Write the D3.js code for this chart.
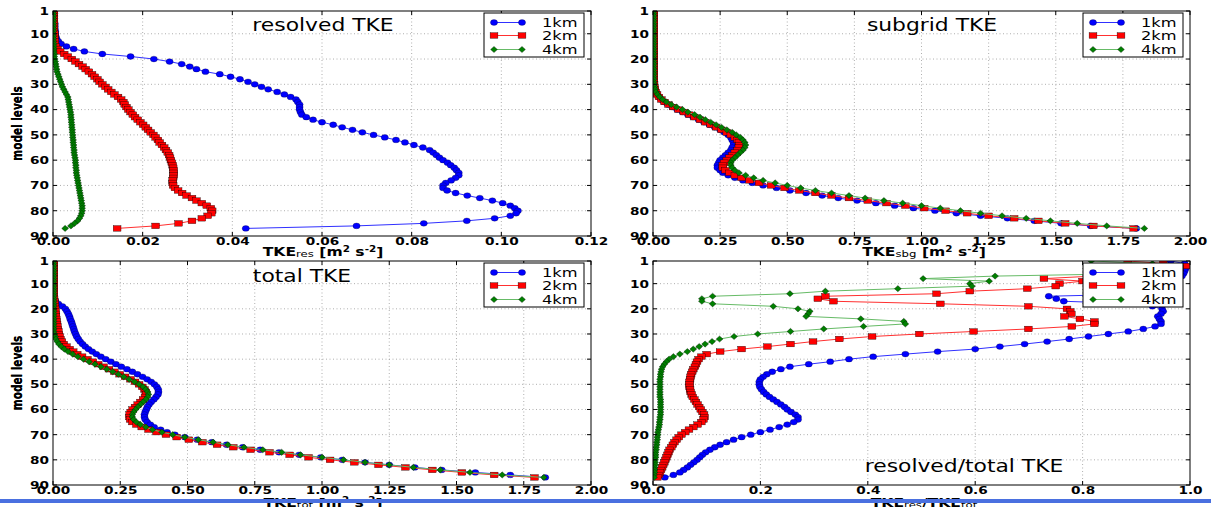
<!DOCTYPE html>
<html>
<head>
<meta charset="utf-8">
<script src="https://cdn.jsdelivr.net/npm/d3@7"></script>
<style>
  body { margin: 0; background: #fff; }
  text { font-family: "DejaVu Sans", sans-serif; fill: #000; }
</style>
</head>
<body>
<div id="chart"></div>
<script>
// Svg set up
var svgWidth = 1211;
var svgHeight = 507;
var SX = 1.3;   // the picture is stretched sideways, so is the text

// model levels 1..87
var levels = d3.range(1, 88);
var yTicks = [1, 10, 20, 30, 40, 50, 60, 70, 80, 90];
var xTicksRes = [0, 0.02, 0.04, 0.06, 0.08, 0.10, 0.12];
var xTicksTke = [0, 0.25, 0.5, 0.75, 1.0, 1.25, 1.5, 1.75, 2.0];
var xTicksRatio = [0, 0.2, 0.4, 0.6, 0.8, 1.0];
var seriesNames = ["1km", "2km", "4km"];

// resolved TKE
var res1 = [0.0003,0.0003,0.0003,0.0003,0.0003,0.0004,0.0004,0.0004,0.0005,0.0005,0.0006,0.0008,
  0.0012,0.0018,0.003,0.0046,0.007,0.011,0.0173,0.0225,
  0.026,0.0287,0.0305,0.032,0.034,0.0372,0.0396,0.0417,0.0435,0.045,
  0.0465,0.048,0.050,0.0516,0.053,0.0542,0.0546,0.055,0.055,0.055,
  0.0552,0.0555,0.0565,0.058,0.060,0.0625,0.0645,0.0668,0.069,0.0715,
  0.074,0.0765,0.0785,0.0805,0.0825,0.084,0.0848,0.0855,0.0862,0.087,
  0.088,0.0887,0.0895,0.090,0.0905,0.0905,0.0898,0.0888,0.0876,0.087,
  0.087,0.0879,0.0898,0.0924,0.0952,0.098,0.1003,0.102,0.103,0.1037,
  0.1033,0.102,0.0985,0.0923,0.0827,0.0677,0.043];
var res2 = [0.0002,0.0002,0.0002,0.0002,0.0002,0.0002,0.0002,0.0002,0.0002,0.0003,0.0003,0.0003,0.0004,0.0004,
  0.0006,0.001,0.0016,0.0025,0.0033,0.0042,
  0.005,0.0058,0.0066,0.0073,0.008,0.0087,0.0093,0.0099,0.0104,0.011,
  0.0117,0.0123,0.013,0.0137,0.0145,0.0152,0.0157,0.016,0.0164,0.0168,
  0.0173,0.0178,0.0183,0.0189,0.0195,0.0201,0.0207,0.0212,0.0218,0.0224,
  0.0229,0.0234,0.0238,0.0243,0.0248,0.0252,0.0256,0.0259,0.0261,0.0263,
  0.0265,0.0267,0.0268,0.0269,0.0269,0.0269,0.0268,0.0267,0.0267,0.0268,
  0.0272,0.0279,0.0288,0.0298,0.031,0.032,0.0332,0.0343,0.0352,0.0355,
  0.0353,0.0345,0.0332,0.031,0.028,0.0229,0.0143];
var res4 = [0.0001,0.0001,0.0001,0.0001,0.0001,0.0001,0.0001,0.0001,0.0001,0.0001,
  0.0001,0.0001,0.0001,0.0002,0.0002,0.0002,0.0002,0.0003,0.0003,
  0.0004,0.0005,0.0006,0.0007,0.0008,0.0009,0.0011,0.0013,0.0015,0.0017,0.0019,
  0.0021,0.0024,0.0027,0.003,0.0033,0.0034,0.0035,0.0036,0.0037,0.0038,
  0.0039,0.004,0.004,0.0041,0.0041,0.0042,0.0042,0.0043,0.0043,0.0044,
  0.0044,0.0045,0.0045,0.0046,0.0046,0.0047,0.0047,0.0048,0.0049,0.005,
  0.005,0.0051,0.0051,0.0052,0.0052,0.0053,0.0054,0.0055,0.0056,0.0057,
  0.0058,0.0059,0.006,0.0061,0.0062,0.0063,0.0064,0.0065,0.0065,0.0065,
  0.0064,0.0062,0.0059,0.0055,0.0048,0.004,0.0027];

// subgrid TKE
var sbg1 = [0.003,0.003,0.003,0.003,0.003,0.003,0.003,0.003,0.003,0.003,
  0.003,0.003,0.003,0.003,0.003,0.003,0.003,0.003,0.003,0.003,
  0.003,0.003,0.003,0.003,0.003,0.003,0.003,0.003,0.003,
  0.003,0.004,0.006,0.009,0.014,0.021,0.03,0.041,0.055,0.072,0.09,
  0.11,0.13,0.15,0.17,0.19,0.21,0.23,0.25,0.265,0.28,
  0.29,0.295,0.3,0.3,0.295,0.29,0.28,0.27,0.26,0.25,
  0.245,0.24,0.24,0.25,0.26,0.28,0.305,0.335,0.37,0.41,
  0.46,0.51,0.57,0.63,0.69,0.76,0.83,0.9,0.97,1.05,
  1.13,1.22,1.32,1.42,1.52,1.63,1.80];
var sbg2 = [0.003,0.003,0.003,0.003,0.003,0.003,0.003,0.003,0.003,0.003,
  0.003,0.003,0.003,0.003,0.003,0.003,0.003,0.003,0.003,0.003,
  0.003,0.003,0.003,0.003,0.003,0.003,0.003,0.003,0.003,
  0.004,0.005,0.007,0.01,0.015,0.022,0.031,0.043,0.058,0.075,0.095,
  0.115,0.135,0.155,0.175,0.195,0.215,0.235,0.255,0.275,0.29,
  0.305,0.315,0.32,0.322,0.32,0.315,0.305,0.295,0.285,0.275,
  0.265,0.26,0.26,0.27,0.285,0.305,0.33,0.36,0.395,0.44,
  0.49,0.545,0.605,0.665,0.73,0.8,0.87,0.94,1.01,1.09,
  1.17,1.25,1.345,1.435,1.535,1.64,1.79];
var sbg4 = [0.003,0.003,0.003,0.003,0.003,0.003,0.003,0.003,0.003,0.003,
  0.003,0.003,0.003,0.003,0.003,0.003,0.003,0.003,0.003,0.003,
  0.003,0.003,0.003,0.003,0.003,0.003,0.003,0.003,0.003,
  0.005,0.006,0.008,0.011,0.017,0.025,0.036,0.05,0.068,0.088,0.11,
  0.13,0.155,0.175,0.195,0.215,0.235,0.255,0.275,0.295,0.31,
  0.325,0.335,0.342,0.345,0.342,0.335,0.325,0.315,0.305,0.295,
  0.29,0.29,0.295,0.305,0.32,0.345,0.375,0.41,0.455,0.5,
  0.55,0.605,0.665,0.73,0.79,0.86,0.93,1.0,1.07,1.145,
  1.22,1.3,1.39,1.48,1.58,1.69,1.83];

// total TKE
var tot1 = [0.003,0.003,0.003,0.003,0.003,0.003,0.003,0.003,0.003,0.003,
  0.003,0.003,0.003,0.003,0.003,
  0.005,0.009,0.02,0.035,0.046,
  0.052,0.057,0.061,0.064,0.068,0.071,0.074,0.077,0.08,0.084,
  0.088,0.094,0.101,0.11,0.12,0.132,0.146,0.161,0.178,0.196,
  0.215,0.234,0.254,0.275,0.295,0.314,0.333,0.35,0.365,0.377,
  0.386,0.391,0.392,0.39,0.383,0.375,0.365,0.357,0.351,0.347,
  0.343,0.34,0.34,0.343,0.35,0.362,0.376,0.4,0.424,0.453,
  0.49,0.536,0.59,0.645,0.705,0.77,0.84,0.915,0.995,1.075,
  1.16,1.25,1.345,1.445,1.57,1.70,1.83];
var tot2 = [0.003,0.003,0.003,0.003,0.003,0.003,0.003,0.003,0.003,0.003,
  0.003,0.003,0.003,0.003,0.003,
  0.004,0.005,0.006,0.007,
  0.008,0.009,0.01,0.011,0.012,0.013,0.015,0.016,0.018,0.02,0.022,
  0.025,0.028,0.033,0.04,0.05,0.062,0.075,0.09,0.108,0.128,
  0.148,0.168,0.188,0.208,0.228,0.248,0.268,0.288,0.305,0.32,
  0.332,0.34,0.345,0.346,0.342,0.335,0.325,0.315,0.305,0.296,
  0.289,0.285,0.284,0.287,0.295,0.31,0.33,0.355,0.385,0.42,
  0.46,0.505,0.555,0.61,0.67,0.735,0.805,0.88,0.95,1.03,
  1.12,1.21,1.31,1.41,1.52,1.64,1.79];
var tot4 = [0.003,0.003,0.003,0.003,0.003,0.003,0.003,0.003,0.003,0.003,
  0.003,0.003,0.003,0.003,0.003,0.003,0.003,0.003,0.003,0.003,
  0.003,0.003,0.003,0.003,0.003,0.003,0.003,0.003,0.003,
  0.006,0.008,0.011,0.016,0.022,0.031,0.042,0.056,0.073,0.092,0.113,
  0.134,0.156,0.178,0.2,0.222,0.243,0.263,0.283,0.303,0.32,
  0.335,0.345,0.352,0.355,0.352,0.345,0.335,0.325,0.315,0.307,
  0.3,0.295,0.295,0.3,0.31,0.325,0.345,0.37,0.405,0.445,
  0.49,0.54,0.595,0.65,0.71,0.78,0.85,0.92,1.0,1.08,
  1.16,1.25,1.34,1.44,1.55,1.67,1.825];

// resolved / total
var ratio1 = [0.964,0.99,0.993,0.992,0.99,0.988,0.985,0.98,0.978,0.975,
  0.97,0.96,0.95,0.93,0.737,0.751,0.765,0.9,0.93,0.948,
  0.95,0.946,0.94,0.943,0.946,0.946,0.935,0.913,0.885,0.848,
  0.811,0.775,0.734,0.692,0.646,0.6,0.53,0.47,0.41,0.365,
  0.33,0.29,0.255,0.238,0.222,0.212,0.205,0.2,0.198,0.198,
  0.199,0.202,0.206,0.211,0.217,0.224,0.231,0.238,0.245,0.25,
  0.257,0.265,0.27,0.27,0.262,0.25,0.235,0.218,0.2,0.182,
  0.165,0.15,0.137,0.125,0.115,0.106,0.098,0.092,0.087,0.082,
  0.076,0.07,0.064,0.057,0.05,0.038,0.022];
var ratio2 = [0.884,0.95,0.993,0.98,0.96,0.9,0.82,0.728,0.8,0.757,
  0.75,0.697,0.59,0.528,0.321,0.307,0.336,0.535,0.699,0.771,
  0.777,0.779,0.766,0.795,0.822,0.822,0.78,0.699,0.597,0.496,
  0.408,0.347,0.298,0.256,0.213,0.165,0.125,0.1,0.09,0.085,
  0.082,0.08,0.078,0.075,0.073,0.071,0.07,0.069,0.068,0.068,
  0.068,0.069,0.07,0.072,0.074,0.077,0.08,0.083,0.086,0.089,
  0.092,0.095,0.096,0.094,0.09,0.083,0.075,0.067,0.06,0.053,
  0.048,0.044,0.04,0.037,0.034,0.031,0.029,0.027,0.025,0.023,
  0.021,0.019,0.017,0.015,0.013,0.011,0.008];
var ratio4 = [0.816,0.93,0.96,0.97,0.96,0.9,0.637,0.503,0.626,
  0.59,0.594,0.456,0.321,0.255,0.111,0.091,0.091,0.111,0.224,0.27,
  0.292,0.289,0.285,0.387,0.467,0.47,0.392,0.318,0.256,0.195,
  0.151,0.124,0.11,0.097,0.086,0.075,0.064,0.05,0.038,0.03,
  0.025,0.021,0.018,0.016,0.015,0.014,0.014,0.013,0.013,0.013,
  0.013,0.013,0.013,0.013,0.013,0.014,0.014,0.014,0.014,0.014,
  0.014,0.014,0.013,0.013,0.012,0.012,0.011,0.01,0.009,0.009,
  0.008,0.008,0.007,0.007,0.006,0.006,0.005,0.005,0.005,0.004,
  0.004,0.004,0.003,0.003,0.003,0.002,0.002];

var styles = [
  { color: "#0000ff", line: "#3030ff", marker: "circle" },
  { color: "#ff0000", line: "#ff3030", marker: "square" },
  { color: "#008000", line: "#66bb66", marker: "diamond" }
];

var panels = [
  { left: 53, right: 591, top: 11, bottom: 236, xmax: 0.12, ticks: xTicksRes, fmt: ".2f",
    series: [res1, res2, res4], title: "resolved TKE", tx: 323, ty: 31,
    xlab: [["TKE", "b"], ["res", "sub"], [" [m", "b"], ["2", "sup"], [" s", "b"], ["-2", "sup"], ["]", "b"]], lx: 323, ly: 256 },
  { left: 653, right: 1190, top: 11, bottom: 236, xmax: 2, ticks: xTicksTke, fmt: ".2f",
    series: [sbg1, sbg2, sbg4], title: "subgrid TKE", tx: 932, ty: 31,
    xlab: [["TKE", "b"], ["sbg", "sub"], [" [m", "b"], ["2", "sup"], [" s", "b"], ["-2", "sup"], ["]", "b"]], lx: 924, ly: 256 },
  { left: 53, right: 591, top: 261, bottom: 485, xmax: 2, ticks: xTicksTke, fmt: ".2f",
    series: [tot1, tot2, tot4], title: "total TKE", tx: 302, ty: 282,
    xlab: [["TKE", "b"], ["tot", "sub"], [" [m", "b"], ["2", "sup"], [" s", "b"], ["-2", "sup"], ["]", "b"]], lx: 323, ly: 507 },
  { left: 653, right: 1190, top: 261, bottom: 485, xmax: 1, ticks: xTicksRatio, fmt: ".1f",
    series: [ratio1, ratio2, ratio4], title: "resolved/total TKE", tx: 964, ty: 472,
    xlab: [["TKE", "b"], ["res", "sub"], ["/TKE", "b"], ["tot", "sub"]], lx: 924, ly: 507 }
];

var svg = d3.select("#chart")
  .append("svg")
  .attr("width", svgWidth)
  .attr("height", svgHeight);

// draws the markers of a series
function addMarkers(g, type, data, x, y, color) {
  var sel = g.selectAll(null).data(data).enter();
  if (type === "circle") {
    return sel.append("ellipse")
      .attr("cx", d => x(d[0])).attr("cy", d => y(d[1]))
      .attr("rx", 3.6).attr("ry", 2.9)
      .attr("fill", color).attr("stroke", "#000").attr("stroke-width", 0.25);
  }
  if (type === "square") {
    return sel.append("rect")
      .attr("x", d => x(d[0]) - 3.9).attr("y", d => y(d[1]) - 2.8)
      .attr("width", 7.8).attr("height", 5.6)
      .attr("fill", color).attr("stroke", "#000").attr("stroke-width", 0.35);
  }
  return sel.append("path")
    .attr("d", d => `M${x(d[0]) - 3.4},${y(d[1])}L${x(d[0])},${y(d[1]) - 3.1}L${x(d[0]) + 3.4},${y(d[1])}L${x(d[0])},${y(d[1]) + 3.1}Z`)
    .attr("fill", color).attr("stroke", "#000").attr("stroke-width", 0.35);
}

panels.forEach(function(p, pi) {
  var x = d3.scaleLinear().domain([0, p.xmax]).range([p.left, p.right]);
  var y = d3.scaleLinear().domain([1, 90]).range([p.top, p.bottom]);
  var g = svg.append("g");

  // grid
  g.append("g").selectAll("line").data(p.ticks.slice(1, -1)).enter().append("line")
    .attr("x1", d => x(d)).attr("x2", d => x(d))
    .attr("y1", p.top).attr("y2", p.bottom)
    .attr("stroke", "#9a9a9a").attr("stroke-width", 0.8).attr("stroke-dasharray", "1,2.5");
  g.append("g").selectAll("line").data(yTicks.slice(1, -1)).enter().append("line")
    .attr("x1", p.left).attr("x2", p.right)
    .attr("y1", d => y(d)).attr("y2", d => y(d))
    .attr("stroke", "#9a9a9a").attr("stroke-width", 0.8).attr("stroke-dasharray", "1,2.5");

  // clip to the axes box
  var clipId = "clip" + pi;
  svg.append("clipPath").attr("id", clipId).append("rect")
    .attr("x", p.left).attr("y", p.top)
    .attr("width", p.right - p.left).attr("height", p.bottom - p.top);
  var plot = g.append("g").attr("clip-path", `url(#${clipId})`);

  var line = d3.line().x(d => x(d[0])).y(d => y(d[1]));
  p.series.forEach(function(vals, si) {
    var pts = vals.map((v, i) => [v, levels[i]]);
    var st = styles[si];
    plot.append("path").datum(pts)
      .attr("d", line)
      .attr("fill", "none")
      .attr("stroke", st.line)
      .attr("stroke-width", 1);
    addMarkers(plot, st.marker, pts, x, y, st.color);
  });

  // frame
  g.append("rect")
    .attr("x", p.left).attr("y", p.top)
    .attr("width", p.right - p.left).attr("height", p.bottom - p.top)
    .attr("fill", "none").attr("stroke", "#000").attr("stroke-width", 1);

  // small inward ticks
  p.ticks.forEach(function(t) {
    g.append("line").attr("x1", x(t)).attr("x2", x(t)).attr("y1", p.bottom).attr("y2", p.bottom - 4).attr("stroke", "#000");
    g.append("line").attr("x1", x(t)).attr("x2", x(t)).attr("y1", p.top).attr("y2", p.top + 4).attr("stroke", "#000");
  });
  yTicks.forEach(function(t) {
    g.append("line").attr("x1", p.left).attr("x2", p.left + 4).attr("y1", y(t)).attr("y2", y(t)).attr("stroke", "#000");
    g.append("line").attr("x1", p.right).attr("x2", p.right - 4).attr("y1", y(t)).attr("y2", y(t)).attr("stroke", "#000");
  });

  // axes (labels only)
  var xAxis = g.append("g")
    .attr("transform", `translate(0, ${p.bottom})`)
    .call(d3.axisBottom(x).tickValues(p.ticks).tickFormat(d3.format(p.fmt)).tickSize(0).tickPadding(2));
  var yAxis = g.append("g")
    .attr("transform", `translate(${p.left}, 0)`)
    .call(d3.axisLeft(y).tickValues(yTicks).tickSize(0).tickPadding(4));
  [xAxis, yAxis].forEach(function(a) {
    a.select(".domain").remove();
    a.selectAll("text")
      .attr("font-family", "DejaVu Sans").attr("font-weight", "bold").attr("font-size", 10.5)
      .attr("fill", "#000")
      .attr("transform", `scale(${SX},1)`);
  });
  xAxis.selectAll("text").attr("x", 0);
  yAxis.selectAll("text").attr("x", -4 / SX);

  // y label
  g.append("text")
    .attr("transform", `translate(18, ${(p.top + p.bottom) / 2}) scale(${SX},1) rotate(-90)`)
    .attr("text-anchor", "middle").attr("dominant-baseline", "central")
    .attr("font-size", 10.5).attr("font-weight", "bold")
    .text("model levels");

  // x label
  var xl = g.append("text")
    .attr("transform", `translate(${p.lx}, ${p.ly}) scale(${SX},1)`)
    .attr("text-anchor", "middle").attr("font-size", 12).attr("font-weight", "bold");
  p.xlab.forEach(function(part) {
    var ts = xl.append("tspan").text(part[0]);
    if (part[1] === "sub") ts.attr("font-weight", "normal").attr("font-size", 9).attr("baseline-shift", "-1");
    if (part[1] === "sup") ts.attr("font-size", 8).attr("baseline-shift", "4");
  });

  // title
  g.append("text")
    .attr("transform", `translate(${p.tx}, ${p.ty}) scale(${SX},1)`)
    .attr("text-anchor", "middle").attr("font-size", 16.8)
    .text(p.title);

  // legend
  var lx = p.right - 107, ly = p.top + 2;
  var leg = g.append("g");
  leg.append("rect").attr("x", lx).attr("y", ly).attr("width", 100).attr("height", 44)
    .attr("fill", "#fff").attr("stroke", "#000").attr("stroke-width", 1);
  var rows = [9.5, 22.5, 36.5];
  seriesNames.forEach(function(name, si) {
    var st = styles[si];
    var ry = ly + rows[si];
    var lxs = d3.scaleLinear().domain([0, 1]).range([lx + 10, lx + 38]);
    var ident = d => d;
    leg.append("line").attr("x1", lxs(0)).attr("x2", lxs(1)).attr("y1", ry).attr("y2", ry)
      .attr("stroke", st.line).attr("stroke-width", 1);
    addMarkers(leg, st.marker, [[0, ry], [1, ry]], lxs, ident, st.color);
    leg.append("text")
      .attr("transform", `translate(${lx + 58}, ${ry}) scale(${SX},1)`)
      .attr("dominant-baseline", "central").attr("font-size", 12.5)
      .text(name);
  });
});

// the blue strip across the bottom of the picture
svg.append("rect").attr("x", 0).attr("y", 499).attr("width", svgWidth).attr("height", 4)
  .attr("fill", "#4a70e0");
</script>
</body>
</html>
